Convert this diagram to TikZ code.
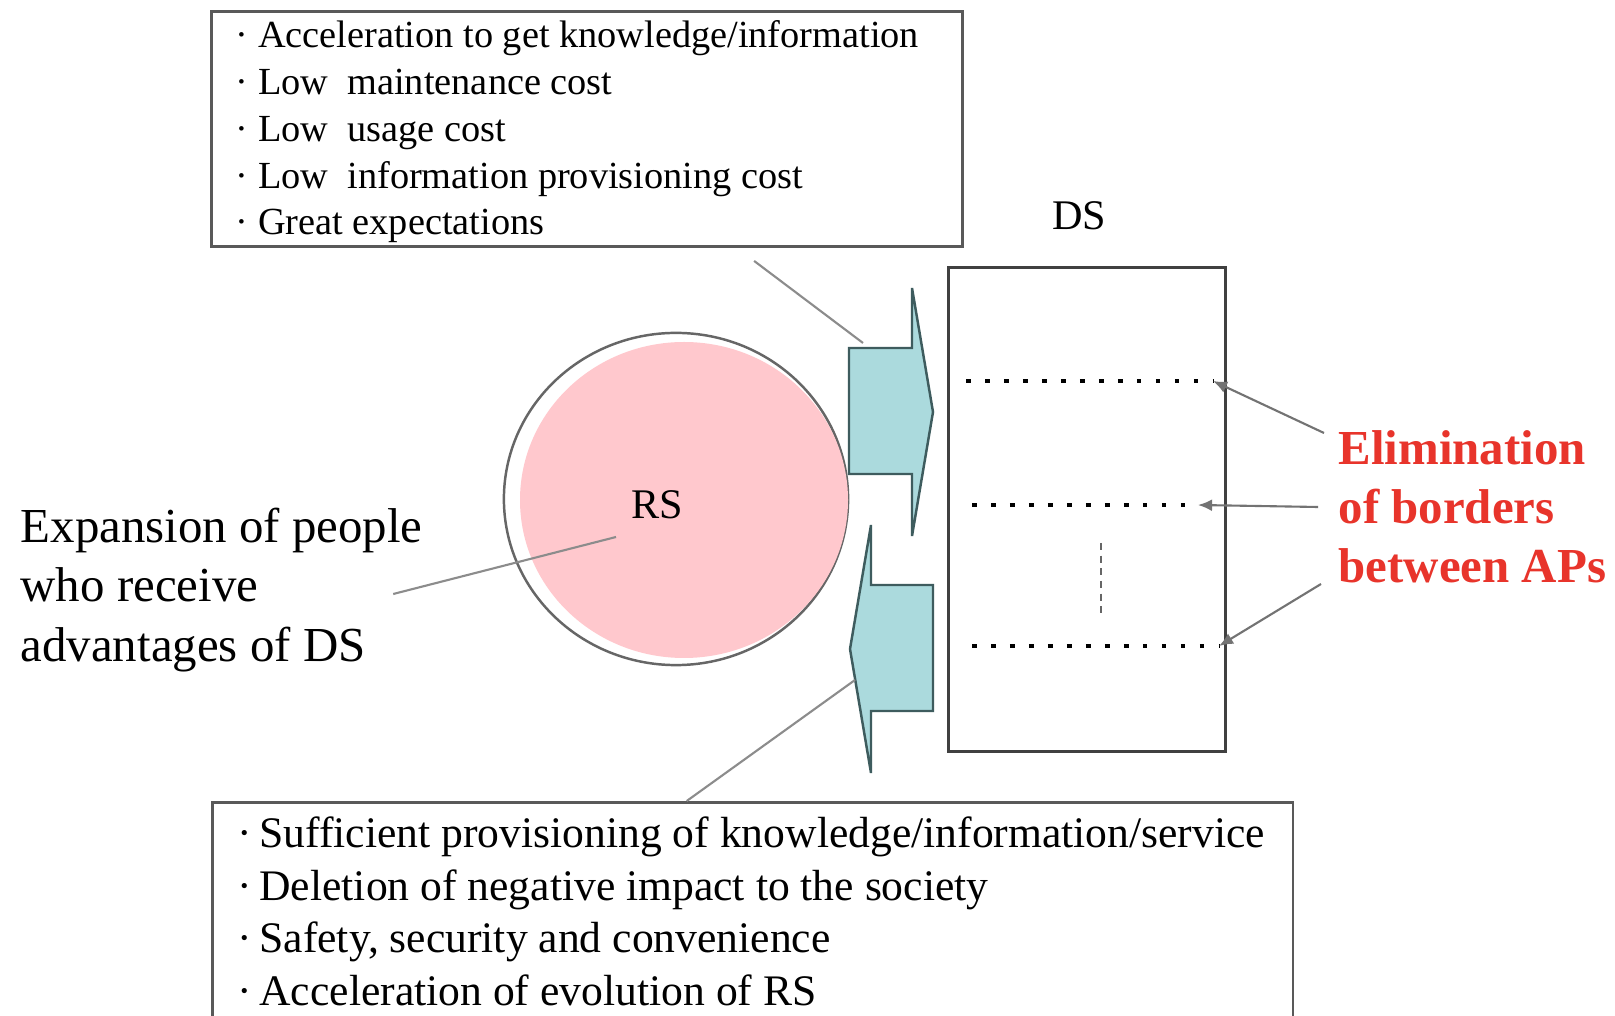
\documentclass[tikz,border=0pt]{standalone}
\usepackage{fontspec}
\setmainfont{Liberation Serif}
\usetikzlibrary{positioning}
\usetikzlibrary{arrows.meta}
\usetikzlibrary{calc}
\usetikzlibrary{shapes.geometric}
\definecolor{rspink}{HTML}{FFC8CD}
\definecolor{flowteal}{HTML}{ABDADD}
\definecolor{flowedge}{HTML}{3E5C5E}
\definecolor{alertred}{HTML}{E8342B}
\definecolor{leadgray}{HTML}{8C8C8C}
\tikzset{
  % A frame round a list of bullet items
  listbox/.style={
    draw=black!65, line width=0.8pt, fill=white, anchor=north west},
  % The list itself
  listtext/.style={anchor=west, align=left, inner sep=0pt},
  % The big block arrows between RS and DS
  flow/.style={draw=flowedge, line width=0.7pt, fill=flowteal},
  % A row of dots inside DS
  border/.style={draw=black, line width=1.3pt, dash pattern=on 1.3pt off 4.1pt},
  % Thin grey leader lines
  leader/.style={draw=leadgray, line width=0.6pt},
  pointer/.style={draw=black!55, line width=0.6pt, -{Latex[length=4pt,width=3.4pt]}},
  plain/.style={font=\fontsize{12}{14}\selectfont, inner sep=0pt},
}

\begin{document}
\begin{tikzpicture}[x=0.01cm, y=-0.01cm]
  \clip (0,0) rectangle (1615,1016);
  \fill[white] (0,0) rectangle (1615,1016);

  % the two lists
  \node[listbox, minimum width=7.51cm, minimum height=2.35cm] (gains) at (210,10) {};
  \node[listtext, font=\fontsize{10.9}{13.3}\selectfont] (gainstext)
       at ($(gains.west)+(25,3)$)
       {· Acceleration to get knowledge/information\\
        · Low\ \ maintenance cost\\
        · Low\ \ usage cost\\
        · Low\ \ information provisioning cost\\
        · Great expectations};
  \node[listbox, minimum width=10.80cm, minimum height=2.30cm] (needs) at (211,801) {};
  \node[listtext, font=\fontsize{12.4}{15}\selectfont] (needstext)
       at ($(needs.west)+(26,-6)$)
       {·\,Sufficient provisioning of knowledge/information/service\\
        ·\,Deletion of negative impact to the society\\
        ·\,Safety, security and convenience\\
        ·\,Acceleration of evolution of RS};

  % RS and DS
  \node[ellipse, draw=black!60, line width=0.7pt, fill=white,
        minimum width=3.44cm, minimum height=3.32cm] (rs) at (676,499) {};
  \fill[rspink] (684,500) ellipse (164 and 158);
  \node[plain] (rslabel) at (657,505) {RS};

  \node[draw=black!75, line width=0.8pt, minimum width=2.77cm, minimum height=4.84cm,
        anchor=north west] (ds) at (947,266) {};
  \node[plain] (dslabel) at (1079,216) {DS};

  % block arrows
  \draw[flow] (849,348) -- (912,348) -- (912,288) -- (933,412) -- (912,536)
              -- (912,474) -- (849,474) -- cycle;
  \draw[flow] (933,585) -- (871,585) -- (871,525) -- (850,649) -- (871,773)
              -- (871,711) -- (933,711) -- cycle;
  \coordinate (pushcorner) at (863,343);
  \coordinate (pulledge) at (855,680);

  % borders between APs
  \coordinate (b1w) at (966,381);  \coordinate (b1e) at (1213,381);
  \coordinate (b2w) at (972,505);  \coordinate (b2e) at (1198,505);
  \coordinate (b3w) at (972,646);  \coordinate (b3e) at (1219,646);
  \draw[border] (b1w) -- (b1e);
  \draw[border] (b2w) -- (b2e);
  \draw[border] (b3w) -- (b3e);
  \draw[black!60, line width=0.6pt, dash pattern=on 2pt off 1.6pt] (1101,543) -- (1101,613);

  % side texts
  \node[anchor=west, align=left, text=alertred, inner sep=0pt,
        font=\fontsize{13.9}{16.8}\selectfont\bfseries] (elim) at (1338,507)
       {Elimination\\of borders\\between APs};
  \node[anchor=west, align=left, inner sep=0pt,
        font=\fontsize{13.9}{16.8}\selectfont] (expand) at (20,590)
       {Expansion of people\\who receive\\advantages of DS};

  % leaders
  \draw[pointer] ($(elim.west)+(-14,-74)$) -- (b1e);
  \draw[pointer] ($(elim.west)+(-20,0)$)   -- (b2e);
  \draw[pointer] ($(elim.west)+(-17,77)$)  -- (b3e);
  \draw[leader] ($(expand.east)+(-30,4)$) -- ($(rs.center)+(-60,38)$);
  \draw[leader] ($(gains.south)+(167,13)$) -- (pushcorner);
  \draw[leader] ($(needs.north)+(-66,0)$) -- (pulledge);
\end{tikzpicture}
\end{document}
